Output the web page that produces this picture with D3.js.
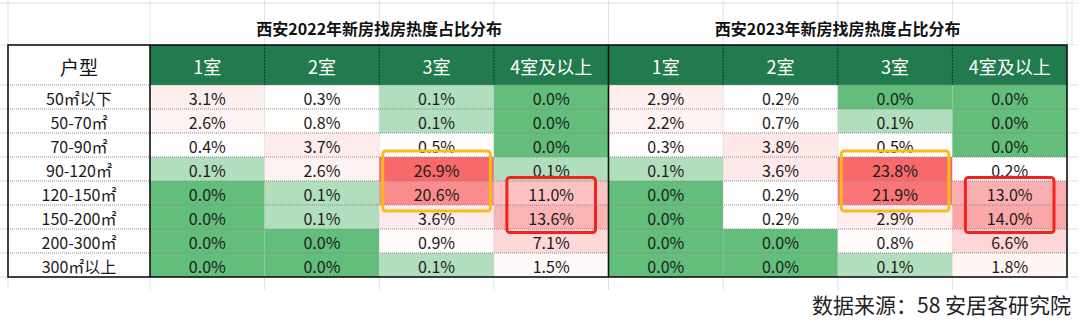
<!DOCTYPE html>
<html>
<head>
<meta charset="utf-8">
<script src="https://cdn.jsdelivr.net/npm/d3@7"></script>
<style>
  body { margin: 0; background: #fff; }
  svg { display: block; font-family: "Noto Sans CJK SC", "Noto Sans", sans-serif; }
</style>
</head>
<body>
<div id="chart"></div>
<script>
let width = 1080
let height = 327

// table data
let rowLabels = ["50㎡以下", "50-70㎡", "70-90㎡", "90-120㎡", "120-150㎡", "150-200㎡", "200-300㎡", "300㎡以上"]
let roomLabels = ["1室", "2室", "3室", "4室及以上"]
let blockTitles = ["西安2022年新房找房热度占比分布", "西安2023年新房找房热度占比分布"]
let headLabel = "户型"
let source = "数据来源：58 安居客研究院"

// rows: 1室, 2室, 3室, 4室及以上 (%)
let values2022 = [
    [3.1, 0.3, 0.1, 0.0],
    [2.6, 0.8, 0.1, 0.0],
    [0.4, 3.7, 0.5, 0.0],
    [0.1, 2.6, 26.9, 0.1],
    [0.0, 0.1, 20.6, 11.0],
    [0.0, 0.1, 3.6, 13.6],
    [0.0, 0.0, 0.9, 7.1],
    [0.0, 0.0, 0.1, 1.5]
]
let values2023 = [
    [2.9, 0.2, 0.0, 0.0],
    [2.2, 0.7, 0.1, 0.0],
    [0.3, 3.8, 0.5, 0.0],
    [0.1, 3.6, 23.8, 0.2],
    [0.0, 0.2, 21.9, 13.0],
    [0.0, 0.2, 2.9, 14.0],
    [0.0, 0.0, 0.8, 6.6],
    [0.0, 0.0, 0.1, 1.8]
]
// highlighted cells: [block, room, first row, last row]
let highlights = [
    [0, "3室", "90-120㎡", "120-150㎡", "orange"],
    [0, "4室及以上", "120-150㎡", "150-200㎡", "red"],
    [1, "3室", "90-120㎡", "120-150㎡", "orange"],
    [1, "4室及以上", "120-150㎡", "150-200㎡", "red"]
]

let blocks = [values2022, values2023]

let left = 8, labelRight = 150, right = 1067
let headTop = 45, dataTop = 85, dataBottom = 277

let colKeys = []
blocks.forEach((b, bi) => roomLabels.forEach(r => colKeys.push(bi + "|" + r)))

let x = d3.scaleBand().domain(colKeys).range([labelRight, right])
let y = d3.scaleBand().domain(rowLabels).range([dataTop, dataBottom])

let svg = d3.select("#chart").append("svg")
    .attr("width", width)
    .attr("height", height)

// excel grid lines outside the table
let gridColor = "#dde1ea"
let gridX = [left].concat(colKeys.map(k => x(k))).concat([right])
svg.append("line").attr("x1", 0).attr("x2", 1078).attr("y1", 3).attr("y2", 3)
    .attr("stroke", gridColor)
svg.append("g").selectAll("line").data(gridX).join("line")
    .attr("x1", d => d).attr("x2", d => d).attr("y1", 0).attr("y2", headTop)
    .attr("stroke", gridColor)
svg.append("g").selectAll("line").data(gridX).join("line")
    .attr("x1", d => d).attr("x2", d => d).attr("y1", dataBottom).attr("y2", 290)
    .attr("stroke", gridColor)
let gridY = [headTop].concat(rowLabels.map(r => y(r))).concat([dataBottom])
svg.append("g").selectAll("line").data(gridY).join("line")
    .attr("x1", 0).attr("x2", left).attr("y1", d => d).attr("y2", d => d)
    .attr("stroke", gridColor)
svg.append("g").selectAll("line").data(gridY).join("line")
    .attr("x1", right).attr("x2", 1078).attr("y1", d => d).attr("y2", d => d)
    .attr("stroke", gridColor)
svg.append("line").attr("x1", 1072).attr("x2", 1072).attr("y1", 0).attr("y2", 45)
    .attr("stroke", gridColor)

// block titles
blockTitles.forEach((t, bi) => {
    let x0 = x(bi + "|" + roomLabels[0])
    let x1 = x(bi + "|" + roomLabels[roomLabels.length - 1]) + x.bandwidth()
    svg.append("text")
        .attr("x", (x0 + x1) / 2)
        .attr("y", 28)
        .attr("text-anchor", "middle")
        .attr("dominant-baseline", "central")
        .attr("font-size", 16)
        .attr("font-weight", "bold")
        .attr("fill", "#111")
        .text(t)
})

// header row
svg.append("rect")
    .attr("x", labelRight).attr("y", headTop)
    .attr("width", right - labelRight).attr("height", dataTop - headTop)
    .attr("fill", "#217b4f")
svg.append("g").selectAll("text").data(colKeys).join("text")
    .attr("x", d => x(d) + x.bandwidth() / 2)
    .attr("y", (headTop + dataTop) / 2 + 1)
    .attr("text-anchor", "middle")
    .attr("dominant-baseline", "central")
    .attr("font-size", 18)
    .attr("fill", "#fff")
    .text(d => d.split("|")[1])
svg.append("text")
    .attr("x", (left + labelRight) / 2)
    .attr("y", (headTop + dataTop) / 2 + 1)
    .attr("text-anchor", "middle")
    .attr("dominant-baseline", "central")
    .attr("font-size", 19)
    .attr("fill", "#111")
    .text(headLabel)

// cells, colour scale per block (excel 3-colour scale)
blocks.forEach((vals, bi) => {
    let flat = vals.flat()
    let color = d3.scaleLinear()
        .domain([d3.min(flat), d3.median(flat), d3.max(flat)])
        .range(["#63be7b", "#ffffff", "#f8696b"])
    let cells = []
    vals.forEach((row, ri) => row.forEach((v, ci) => {
        cells.push({ key: bi + "|" + roomLabels[ci], row: rowLabels[ri], v: v })
    }))
    let g = svg.append("g")
    g.selectAll("rect").data(cells).join("rect")
        .attr("x", d => x(d.key))
        .attr("y", d => y(d.row))
        .attr("width", x.bandwidth())
        .attr("height", y.bandwidth())
        .attr("fill", d => color(d.v))
    g.selectAll("text").data(cells).join("text")
        .attr("x", d => x(d.key) + x.bandwidth() / 2)
        .attr("y", d => y(d.row) + y.bandwidth() / 2 + 1)
        .attr("text-anchor", "middle")
        .attr("dominant-baseline", "central")
        .attr("font-size", 16)
        .attr("fill", "#1a1a1a")
        .text(d => d.v.toFixed(1) + "%")
})

// row labels
svg.append("g").selectAll("text").data(rowLabels).join("text")
    .attr("x", (left + labelRight) / 2)
    .attr("y", d => y(d) + y.bandwidth() / 2 + 1)
    .attr("text-anchor", "middle")
    .attr("dominant-baseline", "central")
    .attr("font-size", 16)
    .attr("fill", "#1a1a1a")
    .text(d => d)

// dotted cell borders
svg.append("g").selectAll("line").data(rowLabels).join("line")
    .attr("x1", left).attr("x2", right)
    .attr("y1", d => y(d)).attr("y2", d => y(d))
    .attr("stroke", "#8a8a8a").attr("stroke-width", 1)
    .attr("stroke-dasharray", "1,1")
svg.append("g").selectAll("line").data(colKeys.slice(1)).join("line")
    .attr("x1", d => x(d)).attr("x2", d => x(d))
    .attr("y1", headTop).attr("y2", dataTop)
    .attr("stroke", "#0b3a22").attr("stroke-width", 1)
    .attr("stroke-dasharray", "2,1")
svg.append("g").selectAll("line").data(colKeys.slice(1)).join("line")
    .attr("x1", d => x(d)).attr("x2", d => x(d))
    .attr("y1", dataTop).attr("y2", dataBottom)
    .attr("stroke", "#b5b5b5").attr("stroke-width", 0.6)
    .attr("stroke-dasharray", "1,1")

// thick borders
svg.append("rect")
    .attr("x", left).attr("y", headTop)
    .attr("width", right - left).attr("height", dataBottom - headTop)
    .attr("fill", "none").attr("stroke", "#111").attr("stroke-width", 1.6)
let thick = [labelRight, x("1|" + roomLabels[0])]
svg.append("g").selectAll("line").data(thick).join("line")
    .attr("x1", d => d).attr("x2", d => d)
    .attr("y1", headTop).attr("y2", dataBottom)
    .attr("stroke", "#111").attr("stroke-width", 1.6)

// highlight boxes
let boxStyle = {
    orange: { stroke: "#ffb81c", dx: 3.5, dy: 6 },
    red: { stroke: "#f5221b", dx: 13, dy: 3.5 }
}
svg.append("g").selectAll("rect").data(highlights).join("rect")
    .attr("x", d => x(d[0] + "|" + d[1]) + boxStyle[d[4]].dx)
    .attr("y", d => y(d[2]) - boxStyle[d[4]].dy)
    .attr("width", d => x.bandwidth() - 2 * boxStyle[d[4]].dx)
    .attr("height", d => y(d[3]) + y.bandwidth() - y(d[2]) + 2 * boxStyle[d[4]].dy)
    .attr("rx", 3)
    .attr("fill", "none")
    .attr("stroke", d => boxStyle[d[4]].stroke)
    .attr("stroke-width", 3)

// source note
svg.append("text")
    .attr("x", 1071)
    .attr("y", 304)
    .attr("text-anchor", "end")
    .attr("dominant-baseline", "central")
    .attr("font-size", 21)
    .attr("fill", "#222")
    .text(source)
</script>
</body>
</html>
